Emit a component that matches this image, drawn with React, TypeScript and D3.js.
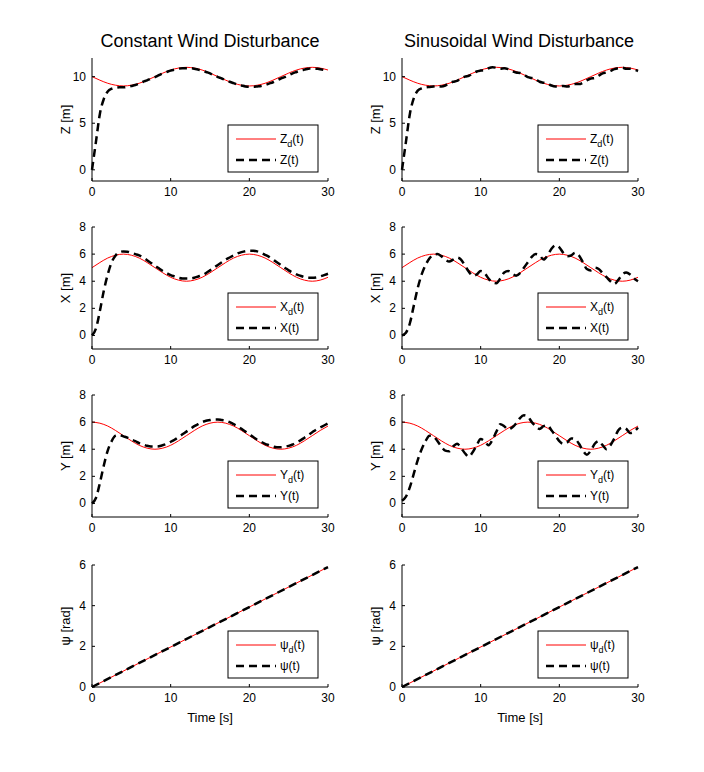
import React from "react";
import * as d3 from "d3";

const t1 = d3.range(0, 31, 1);
const tHalf = d3.range(0, 30.01, 0.5);
const tPsi = [0, 30];

const zDes = [10, 9.62, 9.29, 9.08, 9, 9.08, 9.29, 9.62, 10, 10.38, 10.71, 10.92, 11, 10.92, 10.71, 10.38, 10, 9.62, 9.29, 9.08, 9, 9.08, 9.29, 9.62, 10, 10.38, 10.71, 10.92, 11, 10.92, 10.71];
const xDes = [5, 5.38, 5.71, 5.92, 6, 5.92, 5.71, 5.38, 5, 4.62, 4.29, 4.08, 4, 4.08, 4.29, 4.62, 5, 5.38, 5.71, 5.92, 6, 5.92, 5.71, 5.38, 5, 4.62, 4.29, 4.08, 4, 4.08, 4.29];
const yDes = [6, 5.92, 5.71, 5.38, 5, 4.62, 4.29, 4.08, 4, 4.08, 4.29, 4.62, 5, 5.38, 5.71, 5.92, 6, 5.92, 5.71, 5.38, 5, 4.62, 4.29, 4.08, 4, 4.08, 4.29, 4.62, 5, 5.38, 5.71];
const psiDes = [0, 5.9];
const psiAct = [0, 5.9];

// constant disturbance actual (t step 0.5)
const zConst = [0, 3, 6, 7.6, 8.4, 8.7, 8.8, 8.85, 8.85, 8.9, 9.0, 9.1, 9.25, 9.45, 9.6, 9.8, 9.95, 10.15, 10.35, 10.5, 10.65, 10.75, 10.85, 10.9, 10.9, 10.9, 10.85, 10.75, 10.65, 10.5, 10.35, 10.15, 9.95, 9.8, 9.6, 9.45, 9.3, 9.15, 9.05, 8.95, 8.9, 8.9, 8.95, 9.0, 9.1, 9.25, 9.4, 9.6, 9.8, 9.95, 10.15, 10.35, 10.5, 10.65, 10.75, 10.85, 10.9, 10.85, 10.8, 10.7, 10.55];
const xConst = [0, 0.5, 1.8, 3.3, 4.5, 5.4, 5.9, 6.15, 6.2, 6.18, 6.1, 6.0, 5.9, 5.75, 5.55, 5.35, 5.15, 4.95, 4.75, 4.6, 4.45, 4.35, 4.25, 4.2, 4.2, 4.2, 4.25, 4.35, 4.45, 4.6, 4.8, 5.0, 5.2, 5.4, 5.6, 5.75, 5.9, 6.05, 6.15, 6.22, 6.25, 6.25, 6.2, 6.1, 5.95, 5.8, 5.6, 5.4, 5.2, 5.0, 4.8, 4.65, 4.5, 4.4, 4.3, 4.25, 4.25, 4.28, 4.35, 4.45, 4.55];
const yConst = [0, 0.4, 1.5, 2.8, 3.9, 4.6, 5.0, 5.05, 4.95, 4.85, 4.7, 4.6, 4.45, 4.35, 4.25, 4.2, 4.2, 4.22, 4.3, 4.4, 4.55, 4.7, 4.9, 5.1, 5.3, 5.5, 5.7, 5.85, 6.0, 6.1, 6.15, 6.2, 6.2, 6.15, 6.1, 6.0, 5.85, 5.7, 5.5, 5.3, 5.1, 4.9, 4.7, 4.55, 4.4, 4.3, 4.2, 4.15, 4.15, 4.18, 4.25, 4.35, 4.5, 4.65, 4.85, 5.05, 5.25, 5.45, 5.6, 5.75, 5.9];

// sinusoidal disturbance actual (t step 0.5)
const zSin = [0, 3, 6, 7.7, 8.5, 8.75, 8.85, 8.9, 8.95, 9.0, 8.95, 9.05, 9.3, 9.45, 9.55, 9.8, 10.0, 10.1, 10.3, 10.55, 10.65, 10.7, 10.9, 11.0, 10.95, 10.85, 10.9, 10.8, 10.6, 10.45, 10.4, 10.2, 9.95, 9.85, 9.7, 9.45, 9.35, 9.25, 9.05, 8.95, 8.95, 9.0, 8.95, 9.05, 9.2, 9.2, 9.35, 9.6, 9.8, 9.85, 10.1, 10.35, 10.45, 10.6, 10.8, 10.9, 10.95, 10.85, 10.85, 10.75, 10.6];
const xSin = [0, 0.2, 0.9, 2.2, 3.5, 4.5, 5.2, 5.7, 5.95, 6.0, 5.85, 5.6, 5.45, 5.6, 5.75, 5.6, 5.15, 4.7, 4.4, 4.5, 4.75, 4.6, 4.2, 3.9, 3.85, 4.2, 4.65, 4.75, 4.6, 4.4, 4.6, 5.0, 5.4, 5.8, 6.0, 5.9, 5.6, 5.9, 6.4, 6.65, 6.5, 6.1, 5.85, 5.9, 6.1, 5.9, 5.4, 4.9, 4.8, 5.0, 4.9, 4.6, 4.3, 4.0, 3.8, 4.1, 4.5, 4.65, 4.5, 4.2, 4.0];
const ySin = [0.2, 0.5, 1.2, 2.2, 3.2, 4.0, 4.6, 5.0, 4.95, 4.6, 4.2, 3.9, 3.85, 4.2, 4.4, 4.1, 3.7, 3.45, 3.8, 4.3, 4.75, 4.6, 4.3, 4.7, 5.3, 5.85, 5.7, 5.45, 5.6, 5.9, 6.3, 6.5, 6.4, 6.0, 5.7, 5.5, 5.7, 5.75, 5.4, 5.0, 4.6, 4.4, 4.5, 4.8, 4.75, 4.4, 3.9, 3.6, 3.9, 4.4, 4.6, 4.3, 4.0, 4.3, 4.8, 5.4, 5.6, 5.5, 5.2, 5.3, 5.6];

const xTicks = [0, 10, 20, 30];

type Panel = {
  yDomain: [number, number]; yTicks: number[]; top: number; bottom: number;
  label: string; desLabel: [string, string]; actLabel: string;
  tDes: number[]; des: number[]; tAct: number[]; act: number[];
};

const W = 236;
const FONT = "Arial, 'Liberation Sans', sans-serif";

function PanelView({ p, left, xlabel }: { p: Panel; left: number; xlabel: boolean }) {
  const x = d3.scaleLinear().domain([0, 30]).range([left, left + W]);
  const y = d3.scaleLinear().domain(p.yDomain).range([p.bottom, p.top]);
  const line = d3.line<[number, number]>().x(d => x(d[0])).y(d => y(d[1])).curve(d3.curveMonotoneX);
  const dPath = line(p.tDes.map((t, i) => [t, p.des[i]]) as [number, number][]) || "";
  const aPath = line(p.tAct.map((t, i) => [t, p.act[i]]) as [number, number][]) || "";
  const lx1 = left + W - 100, lx2 = left + W - 10, ly2 = p.bottom - 9, ly1 = ly2 - 47;
  return (
    <g fontFamily={FONT}>
      <path d={dPath} fill="none" stroke="#ff0000" strokeWidth={1} />
      <path d={aPath} fill="none" stroke="#000" strokeWidth={2.5} strokeDasharray="8,5" />
      <line x1={left} x2={left} y1={p.top} y2={p.bottom} stroke="#000" />
      <line x1={left} x2={left + W} y1={p.bottom} y2={p.bottom} stroke="#000" />
      {xTicks.map(t => (
        <g key={t}>
          <line x1={x(t)} x2={x(t)} y1={p.bottom} y2={p.bottom - 3} stroke="#000" />
          <text x={x(t)} y={p.bottom + 15} fontSize={12} textAnchor="middle">{t}</text>
        </g>
      ))}
      {p.yTicks.map(v => (
        <g key={v}>
          <line x1={left} x2={left + 3} y1={y(v)} y2={y(v)} stroke="#000" />
          <text x={left - 6} y={y(v) + 4} fontSize={12} textAnchor="end">{v}</text>
        </g>
      ))}
      <text transform={`translate(${left - 22},${(p.top + p.bottom) / 2}) rotate(-90)`} fontSize={13} textAnchor="middle">{p.label}</text>
      <rect x={lx1} y={ly1} width={lx2 - lx1} height={ly2 - ly1} fill="#fff" stroke="#000" />
      <line x1={lx1 + 8} x2={lx1 + 48} y1={ly1 + 14} y2={ly1 + 14} stroke="#ff0000" />
      <text x={lx1 + 52} y={ly1 + 18} fontSize={12}>{p.desLabel[0]}<tspan fontSize={9} dy={4}>d</tspan><tspan dy={-4}>(t)</tspan></text>
      <line x1={lx1 + 8} x2={lx1 + 48} y1={ly1 + 35} y2={ly1 + 35} stroke="#000" strokeWidth={2.5} strokeDasharray="8,5" />
      <text x={lx1 + 52} y={ly1 + 39} fontSize={12}>{p.actLabel}</text>
      {xlabel && <text x={left + W / 2} y={p.bottom + 35} fontSize={13} textAnchor="middle">Time [s]</text>}
    </g>
  );
}

export default function App() {
  const rows = (which: "c" | "s"): Panel[] => [
    { yDomain: [-1.2, 12], yTicks: [0, 5, 10], top: 58, bottom: 181, label: "Z [m]", desLabel: ["Z", "d"], actLabel: "Z(t)", tDes: t1, des: zDes, tAct: tHalf, act: which === "c" ? zConst : zSin },
    { yDomain: [-1, 8], yTicks: [0, 2, 4, 6, 8], top: 227, bottom: 349, label: "X [m]", desLabel: ["X", "d"], actLabel: "X(t)", tDes: t1, des: xDes, tAct: tHalf, act: which === "c" ? xConst : xSin },
    { yDomain: [-1, 8], yTicks: [0, 2, 4, 6, 8], top: 395, bottom: 517, label: "Y [m]", desLabel: ["Y", "d"], actLabel: "Y(t)", tDes: t1, des: yDes, tAct: tHalf, act: which === "c" ? yConst : ySin },
    { yDomain: [0, 6], yTicks: [0, 2, 4, 6], top: 565, bottom: 687, label: "ψ [rad]", desLabel: ["ψ", "d"], actLabel: "ψ(t)", tDes: tPsi, des: psiDes, tAct: tPsi, act: psiAct },
  ];
  return (
    <svg width={688} height={756} style={{ display: "block" }}>
      <rect width={688} height={756} fill="#fff" />
      <g transform="translate(-8,-8)">
        <text x={210} y={47} fontSize={18} textAnchor="middle" fontFamily={FONT}>Constant Wind Disturbance</text>
        <text x={519} y={47} fontSize={18} textAnchor="middle" fontFamily={FONT}>Sinusoidal Wind Disturbance</text>
        {rows("c").map((p, i) => <PanelView key={"c" + i} p={p} left={92} xlabel={i === 3} />)}
        {rows("s").map((p, i) => <PanelView key={"s" + i} p={p} left={402} xlabel={i === 3} />)}
      </g>
    </svg>
  );
}
